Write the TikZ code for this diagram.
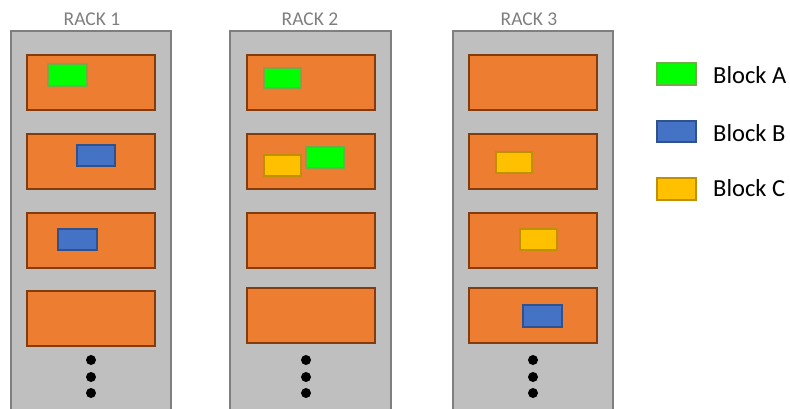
\documentclass[tikz,border=0pt]{standalone}
\usepackage{fontspec}
\setmainfont{Carlito}
\definecolor{rackfill}{HTML}{BFBFBF}
\definecolor{rackline}{HTML}{7F7F7F}
\definecolor{srvfill}{HTML}{ED7D31}
\definecolor{srvline}{HTML}{843C0C}
\definecolor{afill}{HTML}{00FF00}
\definecolor{aline}{HTML}{70AD47}
\definecolor{bfill}{HTML}{4472C4}
\definecolor{bline}{HTML}{2F528F}
\definecolor{cfill}{HTML}{FFC000}
\definecolor{cline}{HTML}{BF9000}
\newcommand{\boxat}[6]{\node[#1, minimum width={(#5-#3)*1pt}, minimum height={(#6-#4)*1pt}] (#2) at ({(#3+#5)/2},{(#4+#6)/2}) {};}
\tikzset{
  rackbox/.style={draw=rackline, fill=rackfill, line width=2pt, inner sep=0pt, rectangle},
  srvbox/.style={draw=srvline, fill=srvfill, line width=2pt, inner sep=0pt, rectangle},
  blocka/.style={draw=aline, fill=afill, line width=1.8pt, inner sep=0pt, rectangle},
  blockb/.style={draw=bline, fill=bfill, line width=1.8pt, inner sep=0pt, rectangle},
  blockc/.style={draw=cline, fill=cfill, line width=1.8pt, inner sep=0pt, rectangle},
  racklabel/.style={text=rackline, font=\fontsize{19.5}{22}\selectfont, inner sep=0pt, anchor=base},
  legendlabel/.style={text=black, font=\fontsize{24.5}{28}\selectfont, inner sep=0pt, anchor=base west},
  dotmark/.style={circle, fill=black, inner sep=0pt, minimum size=10pt}
}
\begin{document}
\begin{tikzpicture}[x=1pt,y=-1pt]
\useasboundingbox (0,0) rectangle (790,408);
% racks
\boxat{rackbox}{rack1}{11}{31}{171}{412}
\boxat{rackbox}{rack2}{230}{31}{391}{412}
\boxat{rackbox}{rack3}{453}{31}{613}{412}
\node[racklabel] (lab1) at (92,25) {RACK 1};
\node[racklabel] (lab2) at (310,25) {RACK 2};
\node[racklabel] (lab3) at (529,25) {RACK 3};
% servers rack 1
\boxat{srvbox}{r1s1}{27}{55}{155}{110}
\boxat{srvbox}{r1s2}{27}{134}{155}{189}
\boxat{srvbox}{r1s3}{27}{213}{155}{268}
\boxat{srvbox}{r1s4}{27}{291}{155}{346}
% servers rack 2
\boxat{srvbox}{r2s1}{247}{55}{375}{110}
\boxat{srvbox}{r2s2}{247}{134}{375}{189}
\boxat{srvbox}{r2s3}{247}{213}{375}{268}
\boxat{srvbox}{r2s4}{247}{288}{375}{343}
% servers rack 3
\boxat{srvbox}{r3s1}{469}{55}{597}{110}
\boxat{srvbox}{r3s2}{469}{134}{597}{189}
\boxat{srvbox}{r3s3}{469}{213}{597}{268}
\boxat{srvbox}{r3s4}{469}{288}{597}{343}
% blocks
\boxat{blocka}{r1a}{48}{64}{87}{86}
\boxat{blockb}{r1b1}{77}{145}{115}{166}
\boxat{blockb}{r1b2}{58}{229}{97}{250}
\boxat{blocka}{r2a1}{264}{68}{301}{88}
\boxat{blockc}{r2c}{264}{155}{301}{176}
\boxat{blocka}{r2a2}{306}{147}{344}{168}
\boxat{blockc}{r3c1}{496}{152}{532}{173}
\boxat{blockc}{r3c2}{520}{229}{557}{250}
\boxat{blockb}{r3b}{523}{305}{562}{327}
% dots
\foreach \r/\x in {1/91,2/306,3/533}{
  \node[dotmark] (d\r a) at (\x,360) {};
  \node[dotmark] (d\r b) at (\x,377) {};
  \node[dotmark] (d\r c) at (\x,393) {};
}
% legend
\boxat{blocka}{lega}{657}{63}{696}{85}
\boxat{blockb}{legb}{657}{121}{696}{142}
\boxat{blockc}{legc}{657}{178}{696}{200}
\node[legendlabel] (txta) at (713,83) {Block A};
\node[legendlabel] (txtb) at (713,141) {Block B};
\node[legendlabel] (txtc) at (713,196) {Block C};
\end{tikzpicture}
\end{document}
